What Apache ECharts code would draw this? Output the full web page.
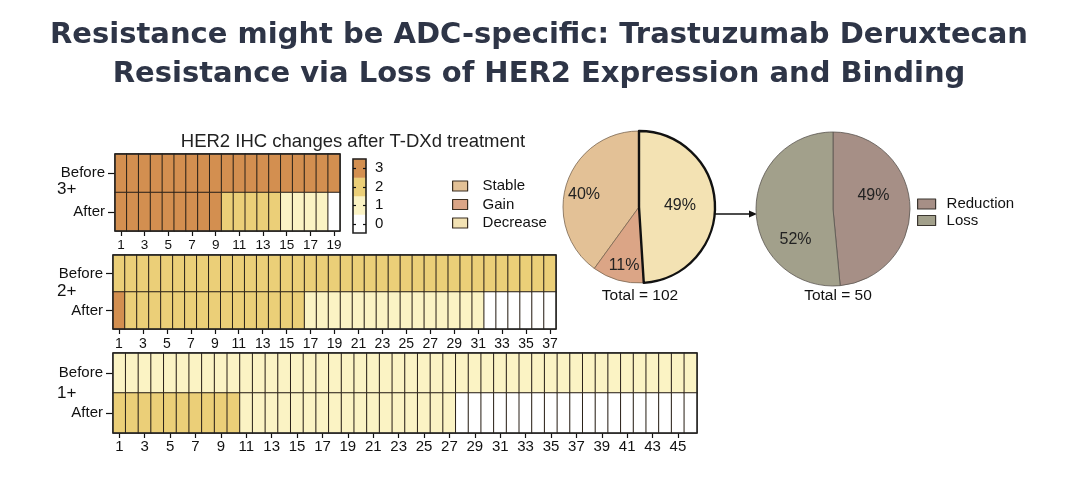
<!DOCTYPE html>
<html>
<head>
<meta charset="utf-8">
<script src="https://cdn.jsdelivr.net/npm/echarts@6/dist/echarts.min.js"></script>
<style>
html, body { margin: 0; padding: 0; background: #fff; }
#chart { width: 1078px; height: 494px; }
</style>
</head>
<body>
<div id="chart"></div>
<script>
// HER2 IHC score per patient, before / after T-DXd
var her3Before = [3,3,3,3,3,3,3,3,3,3,3,3,3,3,3,3,3,3,3];
var her3After  = [3,3,3,3,3,3,3,3,3,2,2,2,2,2,1,1,1,1,0];
var her2Before = [2,2,2,2,2,2,2,2,2,2,2,2,2,2,2,2,2,2,2,2,2,2,2,2,2,2,2,2,2,2,2,2,2,2,2,2,2];
var her2After  = [3,2,2,2,2,2,2,2,2,2,2,2,2,2,2,2,1,1,1,1,1,1,1,1,1,1,1,1,1,1,1,0,0,0,0,0,0];
var her1Before = [1,1,1,1,1,1,1,1,1,1,1,1,1,1,1,1,1,1,1,1,1,1,1,1,1,1,1,1,1,1,1,1,1,1,1,1,1,1,1,1,1,1,1,1,1,1];
var her1After  = [2,2,2,2,2,2,2,2,2,2,1,1,1,1,1,1,1,1,1,1,1,1,1,1,1,1,1,0,0,0,0,0,0,0,0,0,0,0,0,0,0,0,0,0,0,0];

var rowLabels = ['After', 'Before'];
var colorbarLevels = ['0', '1', '2', '3'];

// pies
var changeNames  = ['Stable', 'Gain', 'Decrease'];
var changeValues = [40, 11, 49];
var lossNames  = ['Reduction', 'Loss'];
var lossValues = [49, 52];

var font = 'Liberation Sans, Arial, sans-serif';

function patientLabels(n) {
	var out = [];
	for (var i = 1; i <= n; i++) out.push(String(i));
	return out;
}

function cells(before, after) {
	var d = [];
	for (var i = 0; i < before.length; i++) {
		d.push([i, 1, before[i]]);
		d.push([i, 0, after[i]]);
	}
	return d;
}

function heatX(idx, n, fs, margin) {
	return {
		gridIndex : idx,
		type : 'category',
		data : patientLabels(n),
		position : 'bottom',
		axisLine : { show : false },
		splitLine : { show : false },
		axisTick : { show : true, alignWithLabel : true, interval : 1, length : 5, lineStyle : { color : '#111', width : 1.2 } },
		axisLabel : { interval : 1, fontSize : fs, color : '#111', margin : margin, fontFamily : font }
	};
}

function heatY(idx) {
	return {
		gridIndex : idx,
		type : 'category',
		data : rowLabels,
		axisLine : { show : false },
		splitLine : { show : false },
		axisTick : { show : true, alignWithLabel : true, length : 7, lineStyle : { color : '#111', width : 1.2 } },
		axisLabel : { fontSize : 15, color : '#111', margin : 10, fontFamily : font }
	};
}

function heatSeries(idx, before, after) {
	return {
		type : 'heatmap',
		xAxisIndex : idx,
		yAxisIndex : idx,
		data : cells(before, after),
		itemStyle : { borderColor : '#2a2118', borderWidth : 1 },
		emphasis : { disabled : true },
		silent : true
	};
}

// label nudges: horizontal via padding, vertical via a blank line of given height
var changeColors = { Stable : '#e3c196', Gain : '#dba586', Decrease : '#f3e2b3' };
var changeLabel = {
	Stable : { padding : [0, 32, 0, 0] },
	Gain : { padding : [0, 7, 0, 0], formatter : '\n{c}%', lineHeight : 39 },
	Decrease : {}
};
var lossColors = { Reduction : '#a68f86', Loss : '#a2a08b' };
var lossLabel = {
	Reduction : { padding : [0, 2, 0, 0], formatter : '{c}%\n', lineHeight : 22 },
	Loss : { padding : [0, 0, 0, 8], formatter : '\n{c}%', lineHeight : 58 }
};

var changeData = changeNames.map(function(n, i) {
	var dec = n === 'Decrease';
	return {
		name : n, value : changeValues[i],
		itemStyle : { color : changeColors[n], borderColor : dec ? '#111' : '#7a6650', borderWidth : dec ? 2.4 : 0.8 },
		label : changeLabel[n]
	};
});
var lossData = lossNames.map(function(n, i) {
	return {
		name : n, value : lossValues[i],
		itemStyle : { color : lossColors[n], borderColor : '#5a5550', borderWidth : 0.8 },
		label : lossLabel[n]
	};
});

var option = {
	animation : false,
	backgroundColor : '#fff',
	textStyle : { fontFamily : font },
	title : [ {
		text : 'Resistance might be ADC-specific: Trastuzumab Deruxtecan',
		left : 'center', top : 21, padding : 0,
		textStyle : { fontFamily : 'DejaVu Sans', fontWeight : 'bold', fontSize : 29, color : '#2e3547' }
	}, {
		text : 'Resistance via Loss of HER2 Expression and Binding',
		left : 'center', top : 60, padding : 0,
		textStyle : { fontFamily : 'DejaVu Sans', fontWeight : 'bold', fontSize : 29, color : '#2e3547' }
	}, {
		text : 'HER2 IHC changes after T-DXd treatment',
		left : 353, top : 132, padding : 0, textAlign : 'center',
		textStyle : { fontFamily : font, fontWeight : 'normal', fontSize : 18.5, color : '#222' }
	}, {
		text : 'Total = 102',
		left : 640, top : 288, padding : 0, textAlign : 'center',
		textStyle : { fontFamily : font, fontWeight : 'normal', fontSize : 15.5, color : '#111' }
	}, {
		text : 'Total = 50',
		left : 838, top : 288, padding : 0, textAlign : 'center',
		textStyle : { fontFamily : font, fontWeight : 'normal', fontSize : 15.5, color : '#111' }
	} ],
	legend : [ {
		data : changeNames,
		left : 452, top : 178, orient : 'vertical', padding : 0,
		icon : 'rect', itemWidth : 15, itemHeight : 10, itemGap : 2.5,
		selectedMode : false,
		itemStyle : { borderColor : '#3b2f22', borderWidth : 1.2 },
		textStyle : { fontSize : 15, color : '#111', lineHeight : 16, padding : [0, 0, 0, 10], fontFamily : font }
	}, {
		data : lossNames,
		left : 917, top : 196, orient : 'vertical', padding : 0,
		icon : 'rect', itemWidth : 18, itemHeight : 10, itemGap : 0.5,
		selectedMode : false,
		itemStyle : { borderColor : '#3b3630', borderWidth : 1.2 },
		textStyle : { fontSize : 15, color : '#111', lineHeight : 16, padding : [0, 0, 0, 6], fontFamily : font }
	} ],
	grid : [
		{ left : 115, top : 154, width : 225, height : 77, show : true, z : 5, borderColor : '#222', borderWidth : 1.4 },
		{ left : 113, top : 255, width : 443, height : 74, show : true, z : 5, borderColor : '#222', borderWidth : 1.4 },
		{ left : 113, top : 353, width : 584, height : 80, show : true, z : 5, borderColor : '#222', borderWidth : 1.4 },
		{ left : 353, top : 159, width : 13, height : 74, show : true, z : 5, borderColor : '#222', borderWidth : 1.6 }
	],
	xAxis : [
		heatX(0, her3Before.length, 13.5, 7),
		heatX(1, her2Before.length, 14, 8),
		heatX(2, her1Before.length, 15, 6),
		{ gridIndex : 3, type : 'category', data : [''], show : false }
	],
	yAxis : [
		heatY(0), heatY(1), heatY(2),
		{
			gridIndex : 3, type : 'category', data : colorbarLevels, position : 'right', z : 6,
			axisLine : { show : false },
			axisTick : { show : true, inside : true, alignWithLabel : true, interval : 0, length : 3, lineStyle : { color : '#111', width : 1.2 } },
			axisLabel : { interval : 0, fontSize : 15, color : '#111', margin : 9 }
		}, {
			gridIndex : 3, type : 'category', data : colorbarLevels, position : 'left', z : 6,
			axisLine : { show : false },
			axisTick : { show : true, inside : true, alignWithLabel : true, interval : 0, length : 3, lineStyle : { color : '#111', width : 1.2 } },
			axisLabel : { show : false }
		}
	],
	visualMap : {
		type : 'piecewise', show : false, seriesIndex : [0, 1, 2, 3],
		pieces : [
			{ value : 0, color : '#ffffff' },
			{ value : 1, color : '#fbf3c4' },
			{ value : 2, color : '#ebcf78' },
			{ value : 3, color : '#d38f50' }
		]
	},
	graphic : [
		{ type : 'text', left : 57, top : 181, style : { text : '3+', fontSize : 17, fill : '#111', fontFamily : font } },
		{ type : 'text', left : 57, top : 283, style : { text : '2+', fontSize : 17, fill : '#111', fontFamily : font } },
		{ type : 'text', left : 57, top : 385, style : { text : '1+', fontSize : 17, fill : '#111', fontFamily : font } },
		{ type : 'line', shape : { x1 : 715, y1 : 214, x2 : 751, y2 : 214 }, style : { stroke : '#111', lineWidth : 1.3 } },
		{ type : 'polygon', shape : { points : [ [757, 214], [749, 210.5], [749, 217.5] ] }, style : { fill : '#111' } }
	],
	series : [
		heatSeries(0, her3Before, her3After),
		heatSeries(1, her2Before, her2After),
		heatSeries(2, her1Before, her1After),
		{
			type : 'heatmap', xAxisIndex : 3, yAxisIndex : 3,
			data : colorbarLevels.map(function(l, i) { return [0, i, Number(l)]; }),
			itemStyle : { borderWidth : 0 },
			emphasis : { disabled : true }, silent : true
		}, {
			type : 'pie', center : [639, 207], radius : 76,
			startAngle : 90, clockwise : false,
			data : changeData,
			label : { position : 'inside', formatter : '{c}%', fontSize : 16, color : '#222', fontFamily : font },
			labelLine : { show : false },
			emphasis : { disabled : true }, silent : true
		}, {
			type : 'pie', center : [833, 209], radius : 77,
			startAngle : 90, clockwise : true,
			data : lossData,
			label : { position : 'inside', formatter : '{c}%', fontSize : 16, color : '#222', fontFamily : font },
			labelLine : { show : false },
			emphasis : { disabled : true }, silent : true
		}
	]
};

var myChart = echarts.init(document.getElementById('chart'));
myChart.setOption(option);
</script>
</body>
</html>
